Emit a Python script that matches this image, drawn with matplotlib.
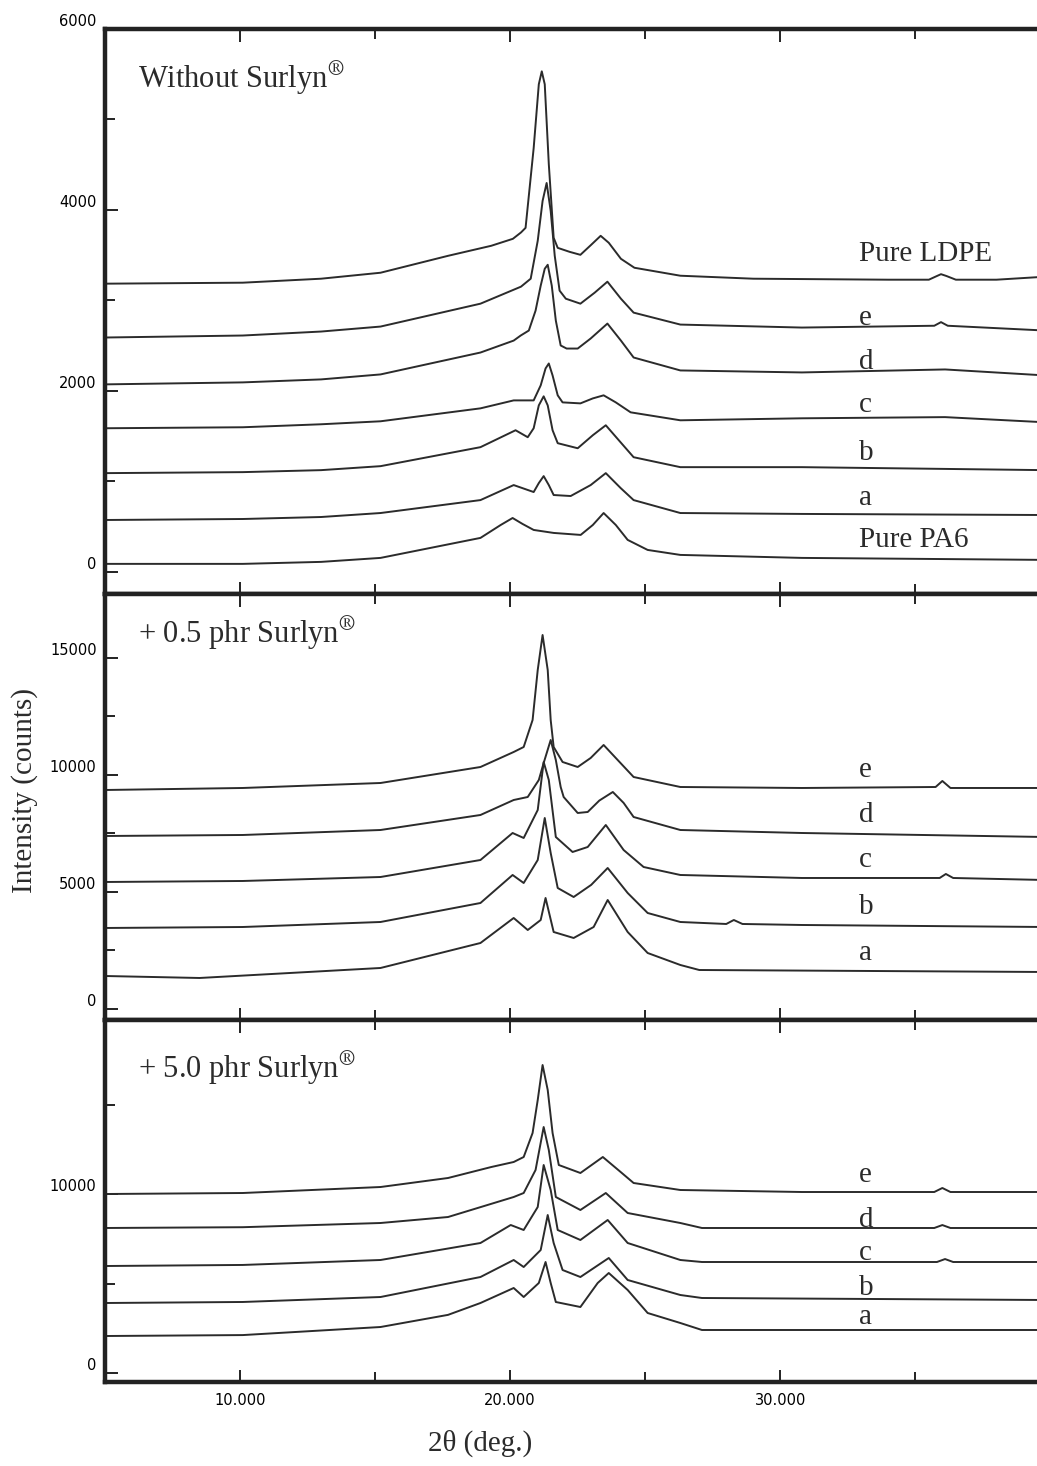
import matplotlib
matplotlib.use('Agg')
import matplotlib.pyplot as plt
from matplotlib.ticker import FixedLocator

# ---- data (2-theta in deg, intensity in counts) ----

# panel 1: without Surlyn
p1_ldpe_x = [5.0, 10.1, 13.0, 15.2, 17.7, 19.3, 20.1, 20.4, 20.57, 20.87, 21.06, 21.17, 21.28, 21.43, 21.61, 21.76, 22.2, 22.6, 23.0, 23.35, 23.65, 24.1, 24.6, 26.3, 29.0, 34.0, 35.5, 35.8, 35.95, 36.15, 36.5, 38.0, 39.8]
p1_ldpe_y = [3185, 3196, 3240, 3306, 3493, 3604, 3681, 3751, 3802, 4684, 5389, 5532, 5389, 4507, 3692, 3581, 3537, 3504, 3615, 3714, 3637, 3460, 3361, 3273, 3240, 3229, 3229, 3270, 3290, 3270, 3229, 3229, 3262]
p1_e_x = [5.0, 10.1, 13.0, 15.2, 18.9, 20.4, 20.76, 21.02, 21.2, 21.35, 21.5, 21.65, 21.83, 22.06, 22.6, 23.13, 23.6, 24.1, 24.57, 26.3, 30.8, 35.7, 35.95, 36.2, 39.8]
p1_e_y = [2590, 2612, 2656, 2711, 2964, 3152, 3240, 3659, 4099, 4298, 3989, 3493, 3108, 3019, 2964, 3086, 3207, 3019, 2865, 2733, 2700, 2720, 2760, 2720, 2667]
p1_d_x = [5.0, 10.1, 13.0, 15.2, 18.9, 20.13, 20.39, 20.69, 20.94, 21.13, 21.28, 21.39, 21.54, 21.69, 21.87, 22.09, 22.5, 22.98, 23.6, 24.1, 24.57, 26.3, 30.8, 36.1, 39.8]
p1_d_y = [2072, 2094, 2127, 2182, 2424, 2556, 2612, 2667, 2887, 3163, 3350, 3394, 3163, 2777, 2502, 2468, 2468, 2579, 2744, 2556, 2369, 2226, 2204, 2237, 2171]
p1_c_x = [5.0, 10.1, 13.0, 15.2, 18.9, 20.13, 20.87, 21.13, 21.31, 21.43, 21.57, 21.76, 21.94, 22.6, 23.06, 23.46, 23.91, 24.46, 26.3, 30.8, 36.1, 39.8]
p1_c_y = [1587, 1598, 1631, 1664, 1807, 1895, 1895, 2061, 2248, 2303, 2171, 1951, 1873, 1862, 1917, 1951, 1873, 1763, 1675, 1697, 1710, 1653]
p1_b_x = [5.0, 10.1, 13.0, 15.2, 18.9, 20.2, 20.65, 20.87, 21.06, 21.24, 21.39, 21.57, 21.76, 22.5, 23.06, 23.54, 24.02, 24.57, 26.3, 30.8, 39.8]
p1_b_y = [1091, 1102, 1124, 1168, 1378, 1565, 1488, 1587, 1840, 1940, 1840, 1565, 1422, 1366, 1510, 1620, 1455, 1267, 1157, 1157, 1124]
p1_a_x = [5.0, 10.1, 13.0, 15.2, 18.9, 20.13, 20.87, 21.06, 21.24, 21.43, 21.61, 22.24, 22.98, 23.54, 24.09, 24.57, 26.3, 30.8, 39.8]
p1_a_y = [573, 584, 606, 650, 793, 959, 882, 981, 1058, 959, 849, 838, 959, 1091, 926, 793, 650, 640, 628]
p1_pa6_x = [5.0, 10.1, 13.0, 15.2, 18.9, 19.65, 20.09, 20.46, 20.87, 21.61, 22.61, 23.06, 23.46, 23.91, 24.35, 25.09, 26.3, 30.8, 39.8]
p1_pa6_y = [88, 88, 110, 154, 375, 518, 595, 529, 463, 430, 408, 518, 650, 518, 353, 242, 187, 154, 132]

# panel 2: + 0.5 phr Surlyn
p2_e_x = [5.0, 10.1, 15.2, 18.9, 20.13, 20.5, 20.83, 21.02, 21.2, 21.39, 21.5, 21.61, 21.94, 22.5, 22.98, 23.46, 23.98, 24.57, 26.3, 30.8, 35.75, 36.0, 36.3, 39.8]
p2_e_y = [9351, 9437, 9650, 10333, 10974, 11187, 12340, 14475, 15970, 14475, 12340, 11187, 10547, 10333, 10718, 11273, 10632, 9906, 9479, 9437, 9479, 9736, 9437, 9437]
p2_d_x = [5.0, 10.1, 15.2, 18.9, 20.13, 20.65, 21.06, 21.24, 21.5, 21.69, 21.87, 21.98, 22.5, 22.87, 23.3, 23.8, 24.2, 24.57, 26.3, 30.8, 39.8]
p2_d_y = [7387, 7430, 7643, 8284, 8924, 9052, 9778, 10504, 11486, 10632, 9479, 9052, 8369, 8412, 8900, 9266, 8800, 8198, 7643, 7515, 7344]
p2_c_x = [5.0, 10.1, 15.2, 18.9, 20.09, 20.5, 21.02, 21.24, 21.43, 21.69, 22.31, 22.87, 23.54, 24.2, 24.94, 26.3, 30.8, 35.9, 36.13, 36.4, 39.8]
p2_c_y = [5423, 5466, 5636, 6362, 7515, 7302, 8497, 10547, 9778, 7344, 6704, 6917, 7857, 6789, 6063, 5722, 5594, 5594, 5765, 5594, 5508]
p2_b_x = [5.0, 10.1, 15.2, 18.9, 20.09, 20.5, 21.02, 21.28, 21.5, 21.76, 22.35, 23.0, 23.61, 24.35, 25.09, 26.3, 28.0, 28.28, 28.6, 30.8, 39.8]
p2_b_y = [3459, 3501, 3715, 4526, 5722, 5380, 6362, 8156, 6661, 5167, 4782, 5300, 6021, 4953, 4099, 3715, 3630, 3800, 3630, 3587, 3501]
p2_a_x = [5.0, 8.5, 15.2, 18.9, 20.13, 20.65, 21.13, 21.31, 21.61, 22.35, 23.09, 23.61, 24.35, 25.09, 26.3, 27.0, 39.8]
p2_a_y = [1409, 1324, 1751, 2818, 3886, 3373, 3800, 4740, 3288, 3032, 3501, 4654, 3288, 2391, 1879, 1665, 1580]

# panel 3: + 5.0 phr Surlyn
p3_e_x = [5.0, 10.1, 15.2, 17.7, 19.3, 20.13, 20.5, 20.83, 21.02, 21.2, 21.39, 21.57, 21.8, 22.6, 23.43, 24.09, 24.57, 26.3, 30.8, 35.7, 36.0, 36.3, 39.8]
p3_e_y = [10006, 10062, 10397, 10901, 11515, 11795, 12074, 13416, 15261, 17217, 15820, 13416, 11627, 11180, 12074, 11236, 10621, 10230, 10118, 10118, 10342, 10118, 10118]
p3_d_x = [5.0, 10.1, 15.2, 17.7, 20.13, 20.5, 20.94, 21.24, 21.43, 21.69, 22.6, 23.54, 24.35, 26.3, 27.1, 35.7, 36.0, 36.3, 39.8]
p3_d_y = [8106, 8150, 8385, 8720, 9838, 10062, 11348, 13751, 12466, 9838, 9112, 10062, 8944, 8385, 8106, 8106, 8270, 8106, 8106]
p3_c_x = [5.0, 10.1, 15.2, 18.9, 20.02, 20.5, 21.02, 21.24, 21.5, 21.76, 22.6, 23.61, 24.35, 26.3, 27.1, 35.8, 36.1, 36.4, 39.8]
p3_c_y = [5981, 6040, 6317, 7267, 8273, 7994, 9279, 11627, 10230, 7994, 7435, 8553, 7267, 6317, 6205, 6205, 6370, 6205, 6205]
p3_b_x = [5.0, 10.1, 15.2, 18.9, 20.13, 20.5, 21.13, 21.39, 21.61, 21.94, 22.6, 23.65, 24.35, 26.3, 27.1, 39.8]
p3_b_y = [3913, 3970, 4248, 5366, 6317, 5925, 6876, 8832, 7267, 5758, 5366, 6429, 5199, 4360, 4193, 4081]
p3_a_x = [5.0, 10.1, 15.2, 17.7, 18.9, 20.13, 20.5, 21.06, 21.31, 21.5, 21.69, 22.6, 23.24, 23.65, 24.35, 25.09, 26.3, 27.1, 39.8]
p3_a_y = [2068, 2120, 2571, 3250, 3913, 4752, 4248, 5031, 6205, 5031, 3969, 3689, 5031, 5590, 4640, 3354, 2795, 2404, 2404]

# curve labels and where they sit (intensity of label centre)
p1_names = ['Pure LDPE', 'e', 'd', 'c', 'b', 'a', 'Pure PA6']
p1_name_y = [3515, 2810, 2314, 1840, 1311, 815, 353]
p2_names = ['e', 'd', 'c', 'b', 'a']
p2_name_y = [10205, 8284, 6362, 4355, 2391]
p3_names = ['e', 'd', 'c', 'b', 'a']
p3_name_y = [11068, 8553, 6708, 4752, 3130]

x_ticks = [10, 20, 30]
x_tick_labels = ['10.000', '20.000', '30.000']

# ---- figure ----
plt.rcParams['font.family'] = ['Liberation Serif', 'DejaVu Serif']
plt.rcParams['mathtext.fontset'] = 'stix'
narrow = ['Liberation Sans Narrow', 'DejaVu Sans']

W, H = 1037, 1466
fig = plt.figure(figsize=(W / 100, H / 100), dpi=100)


def box(top, bottom):
    return [105 / W, 1 - bottom / H, 940 / W, (bottom - top) / H]


ax1 = fig.add_axes(box(29, 594))
ax2 = fig.add_axes(box(594, 1020))
ax3 = fig.add_axes(box(1020, 1382))

panels = [
    (ax1,
     [(p1_ldpe_x, p1_ldpe_y), (p1_e_x, p1_e_y), (p1_d_x, p1_d_y), (p1_c_x, p1_c_y),
      (p1_b_x, p1_b_y), (p1_a_x, p1_a_y), (p1_pa6_x, p1_pa6_y)],
     (-245, 6000), [0, 2000, 4000, 6000], [1000, 3000, 5000],
     r'Without Surlyn$^{\circledR}$', 0.913, p1_names, p1_name_y),
    (ax2,
     [(p2_e_x, p2_e_y), (p2_d_x, p2_d_y), (p2_c_x, p2_c_y), (p2_b_x, p2_b_y), (p2_a_x, p2_a_y)],
     (-470, 17720), [0, 5000, 10000, 15000], [2500, 7500, 12500],
     r'+ 0.5 phr Surlyn$^{\circledR}$', 0.908, p2_names, p2_name_y),
    (ax3,
     [(p3_e_x, p3_e_y), (p3_d_x, p3_d_y), (p3_c_x, p3_c_y), (p3_b_x, p3_b_y), (p3_a_x, p3_a_y)],
     (-503, 19733), [0, 10000], [5000, 15000],
     r'+ 5.0 phr Surlyn$^{\circledR}$', 0.867, p3_names, p3_name_y),
]

for ax, curves, ylim, yt, ytm, title, title_y, names, name_y in panels:
    for cx, cy in curves:
        ax.plot(cx, cy, color='#2b2b2b', lw=1.4)
    # right limit sits just past the image edge, like the cropped scan
    ax.set_xlim(5, 39.8)
    ax.set_ylim(*ylim)

    ax.xaxis.set_major_locator(FixedLocator(x_ticks))
    ax.xaxis.set_minor_locator(FixedLocator([15, 25, 35]))
    ax.yaxis.set_major_locator(FixedLocator(yt))
    ax.yaxis.set_minor_locator(FixedLocator(ytm))
    ax.tick_params(which='both', direction='in', top=True, bottom=True,
                   right=False, width=1.4, color='#222222')
    ax.tick_params(which='major', length=9)
    ax.tick_params(which='minor', length=7)
    ax.tick_params(axis='y', pad=6)

    ax.set_yticklabels([str(v) for v in yt], family=narrow, fontsize=10.5)
    for lbl in ax.get_yticklabels():
        lbl.set_va('bottom')

    for s in ax.spines.values():
        s.set_linewidth(3.2)
        s.set_color('#222222')

    ax.text(0.035, title_y, title, transform=ax.transAxes, fontsize=22,
            ha='left', va='center', color='#2b2b2b')
    for nm, ny in zip(names, name_y):
        ax.text(32.9, ny, nm, fontsize=21, ha='left', va='center', color='#2b2b2b')

ax1.set_xticklabels([])
ax2.set_xticklabels([])
ax3.set_xticklabels(x_tick_labels, family=narrow, fontsize=10.5)
ax3.tick_params(axis='x', pad=8)

fig.text(25 / W, 1 - 790 / H, 'Intensity (counts)', rotation=90, fontsize=21,
         ha='center', va='center', color='#2b2b2b')
fig.text(480 / W, 1 - 1443 / H, '2θ (deg.)', fontsize=21,
         ha='center', va='center', color='#2b2b2b')

fig.savefig('out.png', dpi=100)
